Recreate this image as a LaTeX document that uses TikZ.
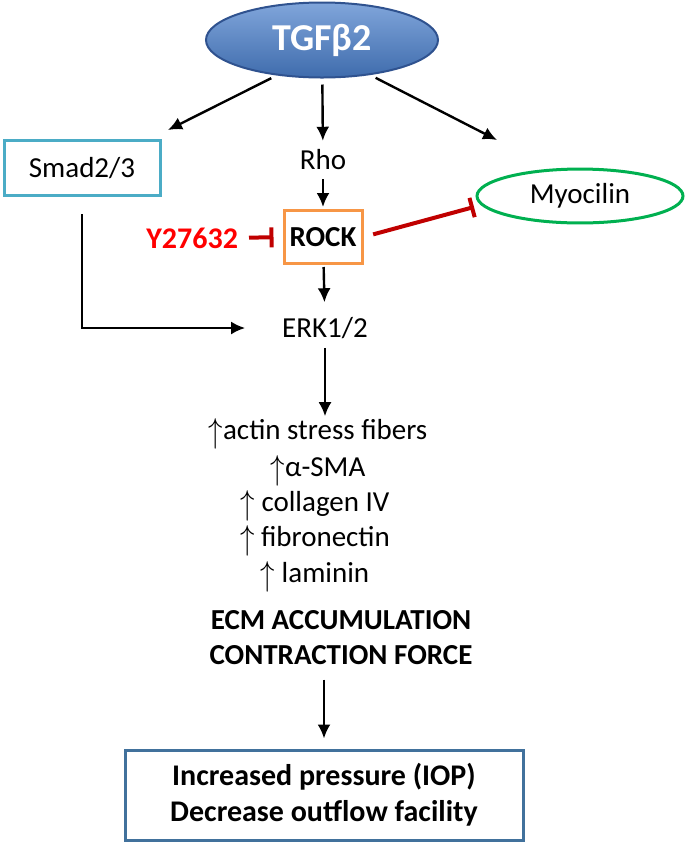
\documentclass[tikz,border=0pt]{standalone}
\usepackage{fontspec}
\setmainfont{Carlito}
\usepackage{amsmath}
\usepackage{amssymb}
\usepackage{graphicx}
\usetikzlibrary{arrows.meta}
\usetikzlibrary{shapes.geometric}
\usetikzlibrary{positioning}

\definecolor{tgfblue}{HTML}{4A7FCB}
\definecolor{tgfedge}{HTML}{2F528F}
\definecolor{smadblue}{HTML}{4BACC6}
\definecolor{rockorange}{HTML}{F79646}
\definecolor{myogreen}{HTML}{00B050}
\definecolor{iopblue}{HTML}{41719C}
\definecolor{inhred}{HTML}{C00000}
\definecolor{drugred}{HTML}{FF0000}

\newcommand{\upar}{\raisebox{-1.5pt}{\scalebox{1}[1.2]{$\uparrow$}}}

\begin{document}
\begin{tikzpicture}[x=0.5pt,y=-0.5pt,
	every node/.style={font=\fontsize{14.5}{16}\selectfont},
	arr/.style={line width=1.2pt,-{Latex[length=7pt,width=6.5pt]}},
	inh/.style={draw=inhred,line width=2pt,-{Bar[width=10pt,line width=2pt]}},
	box/.style={draw,line width=1.5pt,rectangle,inner sep=0pt}]

	\useasboundingbox (0,0) rectangle (685,842);

	% top ligand
	\node[ellipse,draw=tgfedge,line width=1pt,top color=tgfblue!70!white,bottom color=tgfblue!85!black,
		minimum width=116pt,minimum height=37.5pt,text=white,font=\fontsize{19}{21}\selectfont\bfseries] (tgf) at (322,40) {TGFβ2};

	% second row
	\node[box,draw=smadblue,minimum width=78pt,minimum height=27.5pt] (smad) at (82,168) {Smad2/3};
	\node (rho) at (323,160) {Rho};
	\node[ellipse,draw=myogreen,line width=1.5pt,minimum width=103pt,minimum height=26pt] (myo) at (580,196) {Myocilin};

	% kinase and inhibitor
	\node[box,draw=rockorange,minimum width=39pt,minimum height=26.5pt,font=\fontsize{14.5}{16}\selectfont\bfseries] (rock) at (323,237) {ROCK};
	\node[anchor=east,text=drugred,font=\fontsize{15}{16}\selectfont\bfseries] (y27) at (245,238) {Y27632};

	\node (erk) at (325,328) {ERK1/2};

	% effects
	\node[inner ysep=0pt] (act) at (318,434) {\upar actin stress fibers};
	\node[inner ysep=0pt] (sma) at (318,471) {\upar α-SMA};
	\node[inner ysep=0pt] (col) at (315,506) {\upar\ collagen IV};
	\node[inner ysep=0pt] (fib) at (315,541) {\upar\ fibronectin};
	\node[inner ysep=0pt] (lam) at (315,577) {\upar\ laminin};
	\node[font=\fontsize{14.5}{16}\selectfont\bfseries] (ecm) at (341,620) {ECM ACCUMULATION};
	\node[font=\fontsize{14.5}{16}\selectfont\bfseries] (con) at (341,655) {CONTRACTION FORCE};

	\node[box,draw=iopblue,minimum width=199pt,minimum height=45pt,align=center,
		font=\fontsize{15}{18}\selectfont\bfseries] (iop) at (324,795) {Increased pressure (IOP)\\Decrease outflow facility};

	% free ends
	\coordinate (s1) at (168,130);
	\coordinate (m1) at (497,140);
	\coordinate (m2) at (474,207);

	% connectors
	\draw[arr,shorten <=3pt] (tgf.218) -- (s1);
	\draw[arr,shorten <=3pt,shorten >=1pt] (tgf) -- (rho);
	\draw[arr,shorten <=3pt] (tgf.324) -- (m1);
	\draw[arr,shorten <=1pt,shorten >=1pt] (rho) -- (rock);
	\draw[inh,shorten <=2pt,shorten >=4.5pt] (y27) -- (rock);
	\draw[inh,shorten <=5pt] (rock.east) -- (m2);
	\draw[arr,shorten <=1pt,shorten >=4pt] (rock) -- (erk);
	\draw[arr,shorten <=8.5pt,shorten >=15pt] (smad) |- (erk);
	\draw[arr,shorten <=1pt,shorten >=1pt] (erk) -- (erk |- act.north);
	\draw[arr,shorten <=4pt,shorten >=5pt] (con.south -| iop.north) -- (iop.north);

\end{tikzpicture}
\end{document}
